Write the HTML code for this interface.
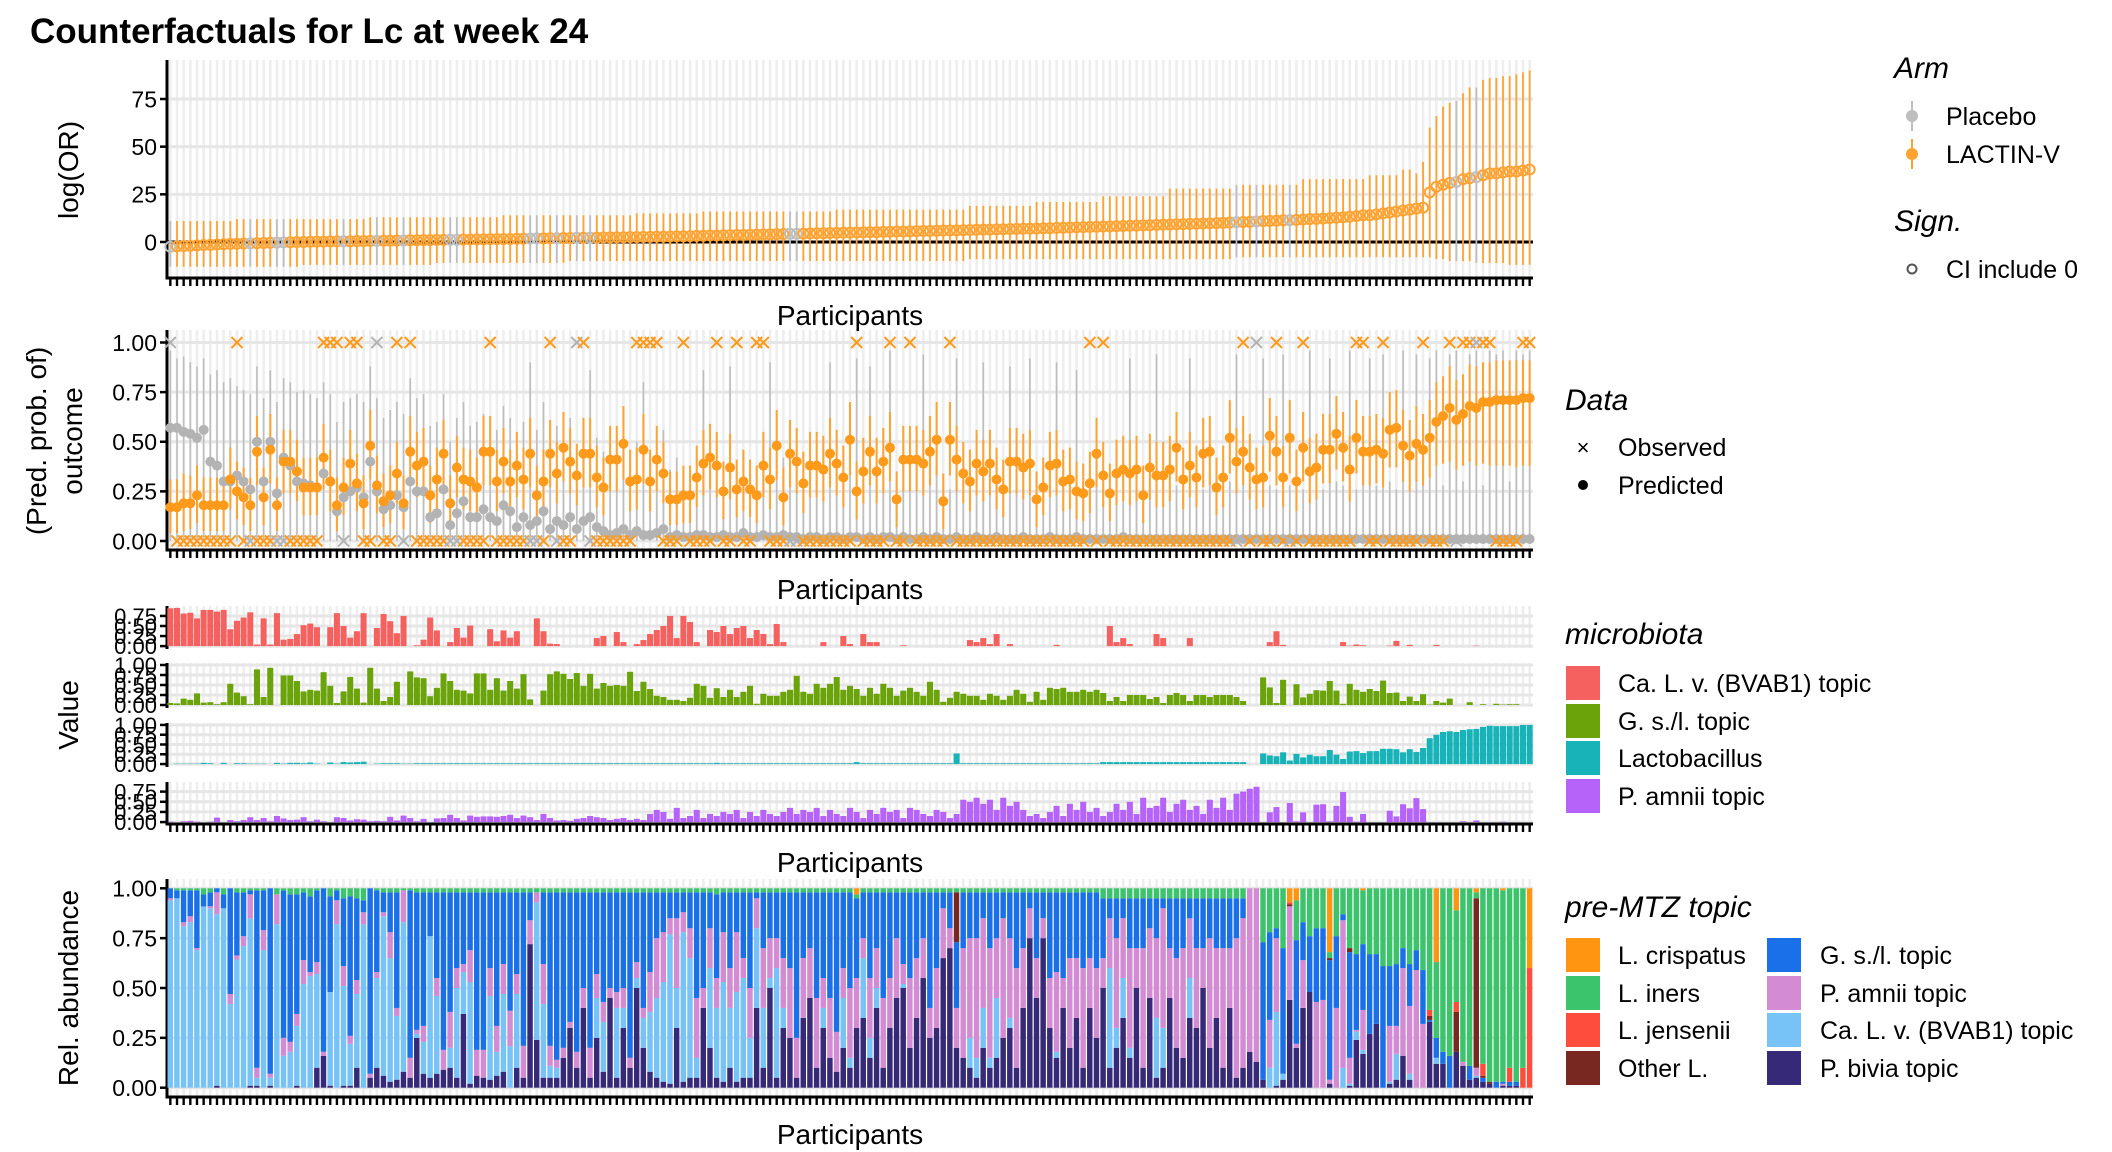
<!DOCTYPE html>
<html><head><meta charset="utf-8"><title>Counterfactuals for Lc at week 24</title>
<style>
html,body{margin:0;padding:0;background:#fff;}
svg{display:block;font-family:"Liberation Sans",Arial,sans-serif;}
</style></head>
<body>
<svg id="chart" xmlns="http://www.w3.org/2000/svg" width="2112" height="1152" viewBox="0 0 2112 1152">
<rect x="0" y="0" width="2112" height="1152" fill="#fff"/>
<text x="30" y="43" font-size="35" font-weight="bold" fill="#000">Counterfactuals for Lc at week 24</text>
<g id="plots"></g>
<g id="legend">
 <text x="1894" y="78" font-size="30" font-style="italic">Arm</text>
 <line x1="1912" y1="101" x2="1912" y2="131" stroke="#bebebe" stroke-width="2"/>
 <circle cx="1912" cy="116" r="6" fill="#bebebe"/>
 <text x="1946" y="125" font-size="25">Placebo</text>
 <line x1="1912" y1="139" x2="1912" y2="169" stroke="#ffa333" stroke-width="2"/>
 <circle cx="1912" cy="154" r="6" fill="#ffa333"/>
 <text x="1946" y="163" font-size="25">LACTIN-V</text>
 <text x="1894" y="231" font-size="30" font-style="italic">Sign.</text>
 <circle cx="1912" cy="269" r="4.5" fill="none" stroke="#555" stroke-width="2"/>
 <text x="1946" y="278" font-size="25">CI include 0</text>

 <text x="1565" y="410" font-size="30" font-style="italic">Data</text>
 <text x="1583" y="455" font-size="22" text-anchor="middle">×</text>
 <text x="1618" y="456" font-size="25">Observed</text>
 <circle cx="1583" cy="485" r="5" fill="#000"/>
 <text x="1618" y="494" font-size="25">Predicted</text>

 <text x="1565" y="644" font-size="30" font-style="italic">microbiota</text>
 <rect x="1566" y="666" width="34" height="34" fill="#f5615f"/>
 <text x="1618" y="692" font-size="25">Ca. L. v. (BVAB1) topic</text>
 <rect x="1566" y="704" width="34" height="34" fill="#6ba30a"/>
 <text x="1618" y="730" font-size="25">G. s./l. topic</text>
 <rect x="1566" y="741" width="34" height="34" fill="#17b3b8"/>
 <text x="1618" y="767" font-size="25">Lactobacillus</text>
 <rect x="1566" y="779" width="34" height="34" fill="#b663fa"/>
 <text x="1618" y="805" font-size="25">P. amnii topic</text>

 <text x="1565" y="917" font-size="30" font-style="italic">pre-MTZ topic</text>
 <rect x="1566" y="938" width="34" height="34" fill="#ff9510"/>
 <text x="1618" y="964" font-size="25">L. crispatus</text>
 <rect x="1566" y="976" width="34" height="34" fill="#3cc46c"/>
 <text x="1618" y="1002" font-size="25">L. iners</text>
 <rect x="1566" y="1013" width="34" height="34" fill="#ff4d3d"/>
 <text x="1618" y="1039" font-size="25">L. jensenii</text>
 <rect x="1566" y="1051" width="34" height="34" fill="#782820"/>
 <text x="1618" y="1077" font-size="25">Other L.</text>
 <rect x="1767" y="938" width="34" height="34" fill="#1a70e8"/>
 <text x="1820" y="964" font-size="25">G. s./l. topic</text>
 <rect x="1767" y="976" width="34" height="34" fill="#d38bd3"/>
 <text x="1820" y="1002" font-size="25">P. amnii topic</text>
 <rect x="1767" y="1013" width="34" height="34" fill="#77c2f7"/>
 <text x="1820" y="1039" font-size="25">Ca. L. v. (BVAB1) topic</text>
 <rect x="1767" y="1051" width="34" height="34" fill="#352978"/>
 <text x="1820" y="1077" font-size="25">P. bivia topic</text>
</g>
<g>
 <text transform="translate(78,170) rotate(-90)" font-size="28" text-anchor="middle">log(OR)</text>
 <text transform="translate(46,441) rotate(-90)" font-size="28" text-anchor="middle">(Pred. prob. of)</text>
 <text transform="translate(82,441) rotate(-90)" font-size="28" text-anchor="middle">outcome</text>
 <text transform="translate(78,715) rotate(-90)" font-size="28" text-anchor="middle">Value</text>
 <text transform="translate(78,988) rotate(-90)" font-size="28" text-anchor="middle">Rel. abundance</text>
 <text x="850" y="325" font-size="28" text-anchor="middle">Participants</text>
 <text x="850" y="599" font-size="28" text-anchor="middle">Participants</text>
 <text x="850" y="872" font-size="28" text-anchor="middle">Participants</text>
 <text x="850" y="1144" font-size="28" text-anchor="middle">Participants</text>
</g>
</svg>
<script>
// ---------- DATA ----------
const N = 205;
// Panel 1: log odds ratio estimate and CI (sorted)
const orEst = [-2.5,-2.3,-2.1,-2,-1.8,-1.6,-1.5,-1.3,-1.2,-1,
-0.9,-0.8,-0.7,-0.6,-0.5,-0.4,-0.3,-0.2,-0.1,0,
0,0.1,0.2,0.2,0.3,0.3,0.4,0.4,0.5,0.5,
0.6,0.6,0.7,0.7,0.8,0.8,0.9,0.9,1,1,
1.1,1.1,1.2,1.2,1.3,1.3,1.4,1.4,1.5,1.5,
1.6,1.6,1.7,1.7,1.8,1.9,1.9,2,2,2.1,
2.1,2.2,2.2,2.3,2.3,2.4,2.4,2.5,2.5,2.6,
2.6,2.7,2.7,2.8,2.8,2.9,3,3,3.1,3.2,
3.3,3.4,3.4,3.5,3.6,3.7,3.7,3.8,3.9,4,
4,4.1,4.2,4.3,4.3,4.4,4.5,4.6,4.6,4.7,
4.8,4.9,4.9,5,5.1,5.2,5.2,5.3,5.4,5.5,
5.5,5.6,5.7,5.8,5.8,5.9,6,6.1,6.1,6.2,
6.3,6.4,6.5,6.5,6.6,6.7,6.8,6.9,7,7,
7.1,7.2,7.3,7.4,7.5,7.6,7.7,7.8,7.9,8,
8.1,8.2,8.3,8.4,8.5,8.6,8.7,8.8,9,9.1,
9.2,9.3,9.4,9.5,9.6,9.7,9.8,9.9,10,10.2,
10.4,10.5,10.6,10.8,11,11.1,11.2,11.4,11.5,11.6,
11.8,12,12.1,12.3,12.5,12.8,13,13.3,13.6,14,
14,14.5,15,15.5,16,16.5,17,17.5,18,26,
29,30,31,31.5,33,33.5,34,35,36,36,
36.5,37,37,37.5,38];
const orHi = [11,11,11,11,11,11,11,11,11,11, 12,12,12,12,12,12,12,12,12,12,
12,12,12,12,12,12,12,12,12,12, 13,13,13,13,13,13,13,13,13,13,
13,13,13,13,13,13,13,13,13,13, 14,14,14,14,14,14,14,14,14,14,
14,14,14,14,14,14,14,14,14,14, 15,15,15,15,15,15,15,15,15,15,
16,16,16,16,16,16,16,16,16,16, 16,16,16,16,16,16,16,16,16,16,
17,17,17,17,17,17,17,17,17,17, 17,17,17,17,17,17,17,17,17,17,
19,19,19,19,19,19,19,19,19,19, 21,21,21,21,21,21,21,21,21,21,
24,24,24,24,24,24,24,24,24,24, 28,28,28,28,28,28,28,28,28,28,
30,30,30,30,30,30,30,30,30,30, 33,33,33,33,33,33,33,33,33,33,
35,35,35,35,35, 38,38,36,42,60,66,71,73,74,78,81,81,85,86,86,87,87,88,89,90];
const orLo = [-13,-13,-13,-13,-13,-13,-13,-13,-13,-13, -13,-13,-13,-13,-13,-13,-13,-13,-13,-13,
-12,-12,-12,-12,-12,-12,-12,-12,-12,-12, -12,-12,-12,-12,-12,-12,-12,-12,-12,-12,
-11,-11,-11,-11,-11,-11,-11,-11,-11,-11, -11,-11,-11,-11,-11,-11,-11,-11,-11,-11,
-10,-10,-10,-10,-10,-10,-10,-10,-10,-10, -10,-10,-10,-10,-10,-10,-10,-10,-10,-10,
-10,-10,-10,-10,-10,-10,-10,-10,-10,-10, -10,-10,-10,-10,-10,-10,-10,-10,-10,-10,
-10,-10,-10,-10,-10,-10,-10,-10,-10,-10, -10,-10,-10,-10,-10,-10,-10,-10,-10,-10,
-9,-9,-9,-9,-9,-9,-9,-9,-9,-9, -9,-9,-9,-9,-9,-9,-9,-9,-9,-9,
-9,-9,-9,-9,-9,-9,-9,-9,-9,-9, -9,-9,-9,-9,-9,-9,-9,-9,-9,-9,
-8,-8,-8,-8,-8,-8,-8,-8,-8,-8, -8,-8,-8,-8,-8,-8,-8,-8,-8,-8, -8,-8,-8,-8,-8,
-8,-8,-8,-8,-8,-9,-9,-10,-10,-10,-10,-11,-11,-11,-11,-11,-12,-12,-12,-12];
// Arm assignment: participant indices in Placebo arm (rest LACTIN-V)
const placeboIdx = [0,12,16,17,26,31,35,42,43,54,55,58,61,63,93,94,160,163,168,193,196];
// Panel 2: predicted probability of outcome (percent) under each arm
const predLactin = [17,17,19,19,23,18,18,18,18,31, 25,22,18,45,22,46,18,40,40,35,
27,27,27,42,30,18,27,39,29,19, 48,28,20,23,34,19,45,38,40,23,
31,44,19,37,31,30,27,45,45,30, 40,30,38,31,44,23,30,44,34,47,
40,33,44,44,32,27,41,41,49,30, 31,46,30,41,34,21,21,23,23,32,
39,42,38,25,37,26,30,26,23,38, 31,48,22,44,40,29,38,38,36,44,
39,32,51,25,35,45,35,40,47,21, 41,41,41,39,45,51,20,51,41,34,
30,39,35,39,31,26,40,40,37,39, 21,27,38,39,30,31,25,24,29,44,
33,24,34,36,34,36,23,37,33,33, 36,47,31,38,32,44,45,27,32,52,
40,45,37,31,32,53,45,32,52,30, 47,35,37,46,46,54,47,36,52,45,
45,46,44,56,57,48,43,49,46,52, 60,63,67,61,64,68,67,70,70,71,
71,71,71,72,72];
const lactinUp = [14,14,15,14,15,14,14,14,14,16, 15,15,14,18,15,18,14,16,16,16,
15,15,15,17,16,14,15,17,15,14, 18,15,14,15,16,14,18,17,17,15,
16,17,14,16,16,16,15,18,18,16, 17,16,17,16,18,15,16,17,16,18,
17,16,18,18,16,15,17,17,19,16, 16,18,16,17,16,14,14,15,15,16,
17,17,17,15,17,15,16,15,15,17, 16,18,15,17,17,16,17,17,17,18,
17,16,19,15,17,18,17,17,18,14, 17,17,17,17,18,19,14,19,17,16,
16,17,16,17,16,15,17,17,17,17, 14,15,17,17,16,16,15,15,16,18,
17,15,17,17,17,17,15,17,17,17, 17,18,16,17,16,18,18,15,16,19,
17,18,17,16,16,19,18,16,19,16, 18,17,17,18,18,19,18,17,19,18,
18,18,18,19,19,18,18,19,18,19, 20,20,21,20,20,21,21,20,20,20,
20,20,20,19,19];
const lactinDn = [13,13,14,13,14,13,13,13,13,15, 14,14,13,17,14,17,13,16,16,15,
14,14,14,16,15,13,14,16,14,13, 17,14,13,14,15,13,17,16,16,14,
15,16,13,15,15,15,14,17,17,15, 16,15,16,15,17,14,15,17,15,17,
16,15,17,17,15,14,16,16,18,15, 15,17,15,16,15,13,13,14,14,15,
16,16,16,14,16,14,15,14,14,16, 15,17,14,17,16,15,16,16,16,17,
16,15,18,14,16,17,16,16,17,14, 16,16,16,16,17,18,14,18,16,15,
15,16,15,16,15,14,16,16,16,16, 14,14,16,16,15,15,14,14,15,17,
16,14,16,16,16,16,14,16,16,16, 16,17,15,16,15,17,17,14,15,18,
16,17,16,15,15,18,17,15,18,15, 17,16,16,17,17,18,17,16,18,17,
17,17,17,19,20,18,18,19,18,20, 22,24,27,25,26,28,29,31,32,33,
33,33,34,34,34];
const predPlacebo = [57,57,55,54,52,56,40,38,30,30, 33,30,26,50,30,50,24,42,38,30,
29,28,27,34,30,15,22,25,27,22, 40,25,16,18,23,17,30,25,25,12,
14,26,8,14,20,12,12,16,12,10, 18,15,7,12,8,10,15,6,10,8,
12,6,10,12,7,5,3,4,6,3, 5,3,3,4,6,2,3,2,2,3,
3,2,2,3,2,2,4,2,2,3, 2,2,3,2,2,1,2,2,1,2,
2,1,2,2,1,2,1,2,2,1, 2,1,1,2,1,2,1,1,2,1,
1,2,1,1,2,1,1,1,2,1, 1,1,2,1,1,1,2,1,1,1,
1,1,1,2,1,1,1,1,1,1, 1,1,1,1,1,1,1,1,1,1,
1,1,1,1,1,1,1,1,1,1, 1,1,1,1,1,1,1,1,1,1,
1,1,1,1,1,1,1,1,1,1, 1,1,1,1,1,1,1,1,1,1,
1,1,1,1,1];
const placeboHi = [96,92,93,90,88,92,84,86,80,82, 78,76,74,88,72,86,70,82,80,75,
76,74,72,80,74,60,70,72,74,70, 88,72,62,66,70,64,82,72,74,58,
60,74,50,62,70,58,60,64,60,56, 68,62,52,60,90,56,70,50,58,52,
62,48,60,86,52,45,40,42,56,38, 50,80,40,44,56,36,42,34,36,42,
86,36,34,40,88,34,44,36,38,42, 90,34,42,36,38,30,36,38,28,90,
34,30,36,92,28,88,30,34,96,28, 40,30,26,94,28,38,30,26,92,28,
26,36,90,26,36,28,88,26,34,92, 28,26,38,90,28,26,86,28,26,28,
26,28,26,34,92,26,28,26,94,28, 26,28,26,92,28,26,30,26,28,30,
94,28,26,30,92,28,26,94,28,30, 26,96,28,26,92,30,28,96,26,30,
92,28,94,30,26,96,28,94,30,92, 96,28,94,96,30,94,96,28,96,94,
96,30,96,94,96];
// observed outcome (1 = outcome at 1.00, 0 = at 0.00)
const observedTop = [0,10,23,24,25,27,28,31,34,36,48,57,61,62,70,71,72,73,77,82,85,88,89,103,108,111,117,138,140,161,163,166,170,178,179,182,188,192,194,195,196,197,198,203,204];

// Panel 3/4: pre-MTZ topic composition (percent)
const calv = [94,95,81,83,69,90,90,86,90,42, 63,71,84,4,69,4,82,16,18,30,
52,56,47,0,47,82,50,21,37,82, 0,45,80,62,32,75,0,2,16,71,
39,0,10,45,21,51,0,0,42,12, 39,21,37,0,0,69,37,6,5,
0,0,0,0,0,20,25,0,35,10,0, 5,15,30,40,50,75,20,75,60,10,
0,40,35,50,30,45,50,20,40,30, 5,55,10,0,0,0,0,0,10,0,0,
25,5,0,30,10,10,0,0,0,2, 0,0,0,0,0,0,0,0,0,15,
10,20,5,30,0,5,0,0,0,0, 0,0,3,0,0,0,0,0,0,0,
50,10,20,5,0,0,0,30,20,0, 0,0,20,0,0,0,0,0,0,0,0,
0,0,0,10,37,3,0,0,0,0, 0,0,0,0,10,1,4,2,0,0,
0,1,13,0,3,0,0,0,3,0, 0,0,0,0,1,0,0,0,0,0,0,0,0];
const gsl = [5,4,16,13,29,6,7,2,7,53, 31,22,2,89,20,93,0,74,74,60,
34,38,36,82,48,5,34,70,41,6, 93,41,10,20,58,0,84,69,67,22,
43,79,60,38,36,29,79,79,38,67, 36,60,41,77,14,0,36,77,84,
78,65,80,48,78,41,55,48,50,48,83, 35,58,40,23,20,13,13,10,18,53,
48,18,42,20,38,20,33,48,3,28, 23,23,33,38,73,33,28,53,43,53,70,
38,48,40,23,43,28,53,43,23,36, 43,33,23,58,38,8,18,33,28,23,
23,13,28,23,13,23,38,28,8,33, 13,43,40,43,33,33,38,33,38,30,
10,20,10,25,25,25,15,20,5,25, 30,25,10,25,25,20,25,25,25,20,10,
0,0,69,44,5,63,0,52,19,28, 37,36,60,36,3,53,38,33,40,35,
61,30,31,10,21,10,27,1,10,6, 16,0,0,7,0,2,0,3,1,2,2,0,0];
const pamnii = [1,0,2,3,1,0,1,11,0,5, 2,5,12,5,10,2,15,9,5,6,
12,2,6,2,0,12,10,4,7,6, 2,3,2,13,4,16,10,2,8,0,
9,10,18,10,4,16,13,14,14,13, 15,18,10,16,12,5,20,10,4,
5,3,8,10,15,12,10,5,8,10,5, 8,5,20,30,25,8,35,10,15,30,
10,20,15,25,20,30,10,25,15,30, 20,15,25,35,20,30,25,35,15,30,20,
15,35,25,10,30,20,35,25,30,10, 35,30,20,15,30,25,10,20,55,50,
60,45,55,30,60,40,50,30,15,20, 10,25,40,15,45,30,50,25,35,15,
25,45,30,50,20,60,35,40,60,25, 45,55,30,40,20,55,35,60,30,70,75,
82,87,0,24,37,0,47,2,24,0, 43,44,2,40,74,13,1,20,0,0,
0,28,14,44,34,59,32,0,0,0, 0,0,2,0,4,0,0,0,1,0,0,0,0];
const pbivia = [0,0,0,0,0,0,0,1,0,0, 0,0,1,1,0,1,0,0,0,1,
0,0,10,16,1,0,1,1,10,0, 5,10,6,3,4,8,5,25,7,5,
7,9,10,5,37,2,6,5,4,6, 8,0,10,5,72,24,5,5,5,
15,30,10,40,5,25,8,45,5,30,10, 50,20,8,5,3,2,30,3,5,5,
40,20,5,3,10,3,5,5,40,10, 50,5,30,25,5,35,45,10,30,15,8,
20,10,30,35,15,40,10,30,45,50, 20,35,55,25,30,65,70,20,15,10,
5,20,10,15,25,30,10,40,75,45, 75,30,15,40,20,35,10,40,25,50,
10,20,35,15,50,10,45,5,10,45, 20,15,35,30,50,20,35,10,40,5,10,
18,13,4,0,1,4,44,20,40,48, 0,0,2,0,0,1,24,17,27,32,
0,2,4,16,4,0,0,33,12,12, 0,18,11,4,5,3,2,0,1,1,1,0,0];
const liners = [0,1,1,1,1,3,2,0,3,0, 2,2,1,1,1,0,3,1,3,3,
2,4,1,0,4,1,5,4,5,6, 0,1,2,2,2,1,1,2,2,2,
2,2,2,2,2,2,2,2,2,2, 2,2,2,2,2,2,2,2,2,
2,2,2,2,2,2,2,2,2,2,2, 2,2,2,2,2,2,2,2,2,2,
2,2,3,2,2,2,2,2,2,2, 2,2,2,2,2,2,2,2,2,2,2,
2,2,2,2,2,2,2,2,2,2, 2,2,2,2,2,2,2,2,2,2,
2,2,2,2,2,2,2,2,2,2, 2,2,2,2,2,2,2,2,2,5,
5,5,5,5,5,5,5,5,5,5, 5,5,5,5,5,5,5,5,5,5,5,
0,0,27,22,20,30,0,20,17,24, 20,20,3,24,13,30,33,27,33,33,
39,39,38,30,38,31,41,61,38,82, 84,46,87,89,3,88,97,97,96,90,97,90,0];
// sparse minor taxa: [participant index, percent]
const lcrispatusPairs = [[103,3],[168,7],[169,6],[174,32],[179,1],[190,37],[193,11],[196,2],[200,1],[204,40]];
const ljenseniiPairs = [[168,1],[189,3],[193,5],[197,6],[201,7],[203,10],[204,60]];
const otherLPairs = [[118,25],[168,1],[174,1],[177,2],[189,2],[193,20],[196,85],[197,1],[198,1]];
// tick labels
const ticks1 = [0,25,50,75];
const ticks2 = [0,0.25,0.5,0.75,1];
const ticksStripA = [0,0.25,0.5,0.75];
const ticksStripB = [0,0.25,0.5,0.75,1];

// ---------- HELPERS ----------
const NS = 'http://www.w3.org/2000/svg';
const root = document.getElementById('plots');
function mk(tag, attrs, parent){
  const e = document.createElementNS(NS, tag);
  for (const k in attrs) e.setAttribute(k, attrs[k]);
  (parent || root).appendChild(e);
  return e;
}
function sparse(pairs){ const a = new Array(N).fill(0); pairs.forEach(p => { a[p[0]] = p[1]; }); return a; }
const lcrispatus = sparse(lcrispatusPairs), ljensenii = sparse(ljenseniiPairs), otherL = sparse(otherLPairs);
const isPlacebo = new Array(N).fill(false); placeboIdx.forEach(i => { isPlacebo[i] = true; });
const obs = new Array(N).fill(0); observedTop.forEach(i => { obs[i] = 1; });

const X0 = 167, X1 = 1533, pitch = (X1 - X0) / N;
const xc = i => X0 + (i + 0.5) * pitch;
function lin(d0, d1, r0, r1){ return v => r0 + (v - d0) * (r1 - r0) / (d1 - d0); }

const GREY = '#bebebe', ORANGE = '#ffa333', ORANGE2 = '#ff9a1a';

function panelFrame(name, top, bottom, yScale, ticks, fmt, withX, fontSize){
  const g = mk('g', {});
  
  
  const bg = mk('rect', {x: X0, y: top, width: X1 - X0, height: bottom - top, fill: '#fff'}, g);
  
  
  for (let i = 0; i < N; i++){
    const vl = mk('line', {x1: xc(i), x2: xc(i), y1: top, y2: bottom, stroke: '#eeeeee', 'stroke-width': 2.6}, g);
    
    
  }
  ticks.forEach(t => {
    const y = yScale(t);
    const hl = mk('line', {x1: X0, x2: X1, y1: y, y2: y, stroke: '#e6e6e6', 'stroke-width': 3}, g);
    
    
    const tk = mk('line', {x1: X0 - 7, x2: X0, y1: y, y2: y, stroke: '#000', 'stroke-width': 2.5}, g);
    
    
    const tl = mk('text', {x: X0 - 10, y: y + fontSize * 0.36, 'font-size': fontSize, 'text-anchor': 'end', fill: '#000'}, g);
    
    
    tl.textContent = fmt(t);
  });
  const ya = mk('line', {x1: X0, x2: X0, y1: top, y2: bottom + 1, stroke: '#000', 'stroke-width': 3}, g);
  
  
  if (withX){
    const xa = mk('line', {x1: X0 - 1.5, x2: X1, y1: bottom, y2: bottom, stroke: '#000', 'stroke-width': 3}, g);
    
    
    for (let i = 0; i < N; i++){
      const xt = mk('line', {x1: xc(i), x2: xc(i), y1: bottom, y2: bottom + 8, stroke: '#000', 'stroke-width': 2.4}, g);
      
      
    }
  }
  return g;
}

// ---------- PANEL 1: log(OR) ----------
(function(){
  const top = 60, bottom = 278;
  const y = lin(0, 75, 242, 99);
  const g = panelFrame('logor-panel', top, bottom, y, ticks1, t => String(t), true, 23);
  const zl = mk('line', {x1: X0, x2: X1, y1: y(0), y2: y(0), stroke: '#000', 'stroke-width': 3}, g);
  
  
  for (let i = 0; i < N; i++){
    const col = isPlacebo[i] ? GREY : ORANGE;
    const ci = mk('line', {x1: xc(i), x2: xc(i), y1: y(orLo[i]), y2: y(orHi[i]), stroke: col, 'stroke-width': 1.8}, g);
    
    
  }
  for (let i = 0; i < N; i++){
    const col = isPlacebo[i] ? GREY : ORANGE;
    const p = mk('circle', {cx: xc(i), cy: y(orEst[i]), r: 5, fill: 'none', stroke: col, 'stroke-width': 2}, g);
    
    
  }
})();

// ---------- PANEL 2: predicted probability ----------
(function(){
  const top = 330, bottom = 550;
  const y = lin(0, 1, 541, 342.5);
  const g = panelFrame('prob-panel', top, bottom, y, ticks2, t => t.toFixed(2), true, 23);
  for (let i = 0; i < N; i++){
    const ci = mk('line', {x1: xc(i), x2: xc(i), y1: y(0), y2: y(placeboHi[i] / 100), stroke: GREY, 'stroke-width': 1.6}, g);
    
    
  }
  for (let i = 0; i < N; i++){
    const v = predLactin[i] / 100;
    const ci = mk('line', {x1: xc(i), x2: xc(i), y1: y(v - lactinDn[i] / 100), y2: y(v + lactinUp[i] / 100), stroke: ORANGE, 'stroke-width': 2}, g);
    
    
  }
  for (let i = 0; i < N; i++){
    const p = mk('circle', {cx: xc(i), cy: y(predPlacebo[i] / 100), r: 5, fill: '#b3b3b3'}, g);
    
    
  }
  for (let i = 0; i < N; i++){
    const p = mk('circle', {cx: xc(i), cy: y(predLactin[i] / 100), r: 5, fill: ORANGE2}, g);
    
    
  }
  for (let i = 0; i < N; i++){
    const cx = xc(i), cy = y(obs[i]), s = 5.5;
    const col = isPlacebo[i] ? '#b3b3b3' : ORANGE2;
    const m = mk('path', {d: `M${cx-s},${cy-s}L${cx+s},${cy+s}M${cx-s},${cy+s}L${cx+s},${cy-s}`, stroke: col, 'stroke-width': 2, fill: 'none'}, g);
    
    
  }
})();

// ---------- PANEL 3: microbiota strips ----------
const lacto = liners.map((v, i) => v + lcrispatus[i] + ljensenii[i] + otherL[i]);
const strips = [
  {name: 'strip-calv', vals: calv, max: 0.95, top: 606, bottom: 648, col: '#f5615f', ticks: ticksStripA, xa: false},
  {name: 'strip-gsl', vals: gsl, max: 1.0, top: 663, bottom: 707, col: '#6ba30a', ticks: ticksStripB, xa: false},
  {name: 'strip-lactobacillus', vals: lacto, max: 1.0, top: 723, bottom: 766, col: '#17b3b8', ticks: ticksStripB, xa: false},
  {name: 'strip-pamnii', vals: pamnii, max: 0.94, top: 782, bottom: 824, col: '#b663fa', ticks: ticksStripA, xa: true}
];
strips.forEach(s => {
  const ext = s.max * 0.05;
  const y = lin(-ext, s.max + ext, s.bottom, s.top);
  const g = panelFrame(s.name, s.top, s.bottom, y, s.ticks, t => t.toFixed(2), s.xa, 22);
  for (let i = 0; i < N; i++){
    const v = s.vals[i] / 100;
    if (v <= 0) continue;
    const b = mk('rect', {x: X0 + i * pitch + 0.3, y: y(v), width: pitch - 0.6, height: y(0) - y(v), fill: s.col}, g);
    
    
  }
});

// ---------- PANEL 4: relative abundance ----------
(function(){
  const top = 879, bottom = 1097;
  const y = lin(0, 1, 1087.7, 888.3);
  const g = panelFrame('abundance-panel', top, bottom, y, ticks2, t => t.toFixed(2), true, 23);
  // stacked bottom -> top
  const layers = [
    {name: 'pbivia', vals: pbivia, col: '#352978'},
    {name: 'calv', vals: calv, col: '#77c2f7'},
    {name: 'pamnii', vals: pamnii, col: '#d38bd3'},
    {name: 'gsl', vals: gsl, col: '#1a70e8'},
    {name: 'other-l', vals: otherL, col: '#782820'},
    {name: 'ljensenii', vals: ljensenii, col: '#ff4d3d'},
    {name: 'liners', vals: liners, col: '#3cc46c'},
    {name: 'lcrispatus', vals: lcrispatus, col: '#ff9510'}
  ];
  for (let i = 0; i < N; i++){
    let total = 0;
    layers.forEach(L => { total += L.vals[i]; });
    const norm = total > 0 ? total : 1;
    let acc = 0;
    layers.forEach(L => {
      const v = L.vals[i] / norm;
      if (v <= 0) return;
      const y0 = y(acc), y1 = y(acc + v);
      const r = mk('rect', {x: X0 + i * pitch + 0.5, y: y1, width: pitch - 1.2, height: y0 - y1, fill: L.col}, g);
      
      
      acc += v;
    });
  }
})();
</script>
</body></html>
